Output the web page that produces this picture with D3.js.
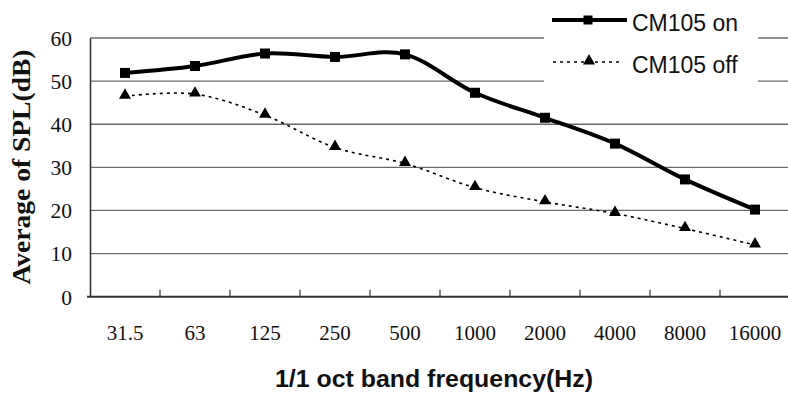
<!DOCTYPE html>
<html><head><meta charset="utf-8">
<script src="https://cdn.jsdelivr.net/npm/d3@7"></script>
<style>body{margin:0;background:#fff}svg{display:block}</style>
</head><body><svg id="c" width="788" height="395"></svg>
<script>
const categories = ["31.5","63","125","250","500","1000","2000","4000","8000","16000"];
const onValues  = [51.9, 53.5, 56.4, 55.6, 56.2, 47.3, 41.5, 35.5, 27.2, 20.2];
const offValues = [46.5, 47.0, 42.1, 34.6, 30.9, 25.3, 22.0, 19.3, 15.8, 12.0];
const yTicks = [0,10,20,30,40,50,60];
const seriesNames = ["CM105 on","CM105 off"];

const svg = d3.select("#c");
const L = 90, R = 790, T = 38, B = 296.7;
const x = d3.scaleBand().domain(categories).range([L, R]).padding(0);
const y = d3.scaleLinear().domain([0, 60]).range([B, T]);

// gridlines
svg.append("g").selectAll("line").data(yTicks.filter(d => d > 0)).join("line")
  .attr("x1", L).attr("x2", 788).attr("y1", d => y(d)).attr("y2", d => y(d))
  .attr("stroke", "#6a6a6a").attr("stroke-width", 1.3);

// y axis
const ya = svg.append("g").attr("transform", `translate(${L},0)`)
  .call(d3.axisLeft(y).tickValues(yTicks).tickSize(0).tickPadding(18));
ya.select(".domain").attr("stroke", "#333").attr("stroke-width", 1.6);
ya.selectAll("text").attr("font-family", "'Liberation Serif','Times New Roman',serif")
  .attr("font-size", 21.5).attr("fill", "#111").attr("dy", "0.34em");

// x axis line & boundary ticks
svg.append("line").attr("x1", L - 3).attr("x2", 788).attr("y1", B).attr("y2", B)
  .attr("stroke", "#333").attr("stroke-width", 2);
svg.append("g").selectAll("line").data(categories.slice(1)).join("line")
  .attr("x1", d => x(d)).attr("x2", d => x(d)).attr("y1", B).attr("y2", B - 7)
  .attr("stroke", "#333").attr("stroke-width", 1.2);
svg.append("g").selectAll("text").data(categories).join("text")
  .attr("x", d => x(d) + x.bandwidth() / 2).attr("y", 340)
  .attr("text-anchor", "middle")
  .attr("font-family", "'Liberation Serif','Times New Roman',serif")
  .attr("font-size", 21).attr("fill", "#111").text(d => d);

// titles
svg.append("text").attr("transform", "translate(30,167) rotate(-90)")
  .attr("text-anchor", "middle")
  .attr("font-family", "'Liberation Serif','Times New Roman',serif")
  .attr("font-weight", "bold").attr("font-size", 25)
  .attr("textLength", 235).attr("lengthAdjust", "spacingAndGlyphs")
  .attr("fill", "#111").text("Average of SPL(dB)");
svg.append("text").attr("x", 434).attr("y", 387).attr("text-anchor", "middle")
  .attr("font-family", "'Liberation Sans',Arial,sans-serif")
  .attr("font-size", 23).attr("font-weight", "bold").attr("fill", "#111")
  .attr("textLength", 318).attr("lengthAdjust", "spacingAndGlyphs")
  .text("1/1 oct band frequency(Hz)");

const cx = (d, i) => x(categories[i]) + x.bandwidth() / 2;
const line = d3.line().x((d, i) => cx(d, i)).y(d => y(d)).curve(d3.curveCatmullRom.alpha(0));
const tri = d3.symbol().type(d3.symbolTriangle).size(62);

// off series
svg.append("path").attr("d", line(offValues)).attr("fill", "none")
  .attr("stroke", "#000").attr("stroke-width", 1.6).attr("stroke-dasharray", "3,4");
svg.append("g").selectAll("path").data(offValues).join("path")
  .attr("d", tri).attr("transform", (d, i) => `translate(${cx(d, i)},${y(d) - 1})`).attr("fill", "#000");

// on series
svg.append("path").attr("d", line(onValues)).attr("fill", "none")
  .attr("stroke", "#000").attr("stroke-width", 4).attr("stroke-linejoin", "round");
svg.append("g").selectAll("rect").data(onValues).join("rect")
  .attr("x", (d, i) => cx(d, i) - 5).attr("y", d => y(d) - 5)
  .attr("width", 10).attr("height", 10).attr("fill", "#000");

// legend
const lg = svg.append("g");
lg.append("rect").attr("x", 544).attr("y", 0).attr("width", 214).attr("height", 88).attr("fill", "#fff");
lg.append("line").attr("x1", 552).attr("x2", 627).attr("y1", 20).attr("y2", 20)
  .attr("stroke", "#000").attr("stroke-width", 4);
lg.append("rect").attr("x", 583.5).attr("y", 15.5).attr("width", 9).attr("height", 9).attr("fill", "#000");
lg.append("line").attr("x1", 553).attr("x2", 621).attr("y1", 62).attr("y2", 62)
  .attr("stroke", "#000").attr("stroke-width", 1.6).attr("stroke-dasharray", "3,4");
lg.append("path").attr("d", tri).attr("transform", "translate(589,61)").attr("fill", "#000");
lg.selectAll("text").data(seriesNames).join("text")
  .attr("x", 632).attr("y", (d, i) => i === 0 ? 31 : 73)
  .attr("font-family", "'Liberation Sans',Arial,sans-serif")
  .attr("font-size", 23).attr("fill", "#111").text(d => d);
</script></body></html>
